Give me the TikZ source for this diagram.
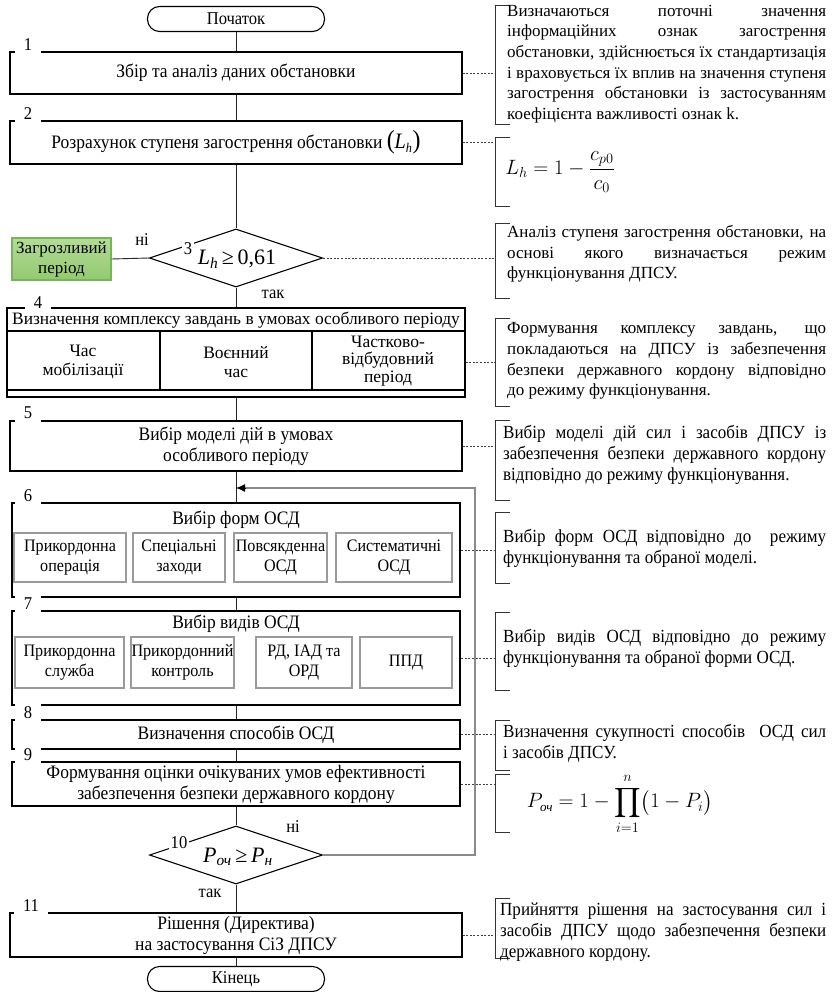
\documentclass[tikz,border=0pt]{standalone}
\usepackage{fontspec}
\usepackage{amsmath}
\setmainfont{Liberation Serif}
\newfontfamily\condf{Liberation Serif}[FakeStretch=0.92]
\usetikzlibrary{shapes.geometric,arrows.meta}
\definecolor{gtop}{HTML}{B3DC98}
\definecolor{gbot}{HTML}{93C96F}
\definecolor{gbord}{HTML}{78B45A}
\definecolor{subgrey}{HTML}{9A9A9A}
\definecolor{fbgrey}{HTML}{8A8A8A}
\tikzset{
  ln/.style={line width=0.9pt, draw=black!85},
  pbox/.style={draw=black, line width=1.2pt, minimum width=452pt, inner sep=0pt, align=center, font=\condf\fontsize{19}{21}\selectfont},
  tbox/.style={draw=black, line width=2.4pt, minimum width=448pt, inner sep=0pt, align=center, font=\condf\fontsize{19}{21}\selectfont},
  term/.style={draw=black, line width=1.1pt, rounded corners=12pt, minimum width=177pt, minimum height=25pt, inner sep=0pt, font=\condf\fontsize{18}{20}\selectfont},
  dia/.style={draw=black, diamond, line width=1.1pt, minimum width=173pt, minimum height=58pt, inner sep=0pt},
  subb/.style={draw=subgrey, line width=1.6pt, inner sep=0pt, align=center, font=\condf\fontsize{17.5}{20}\selectfont},
  numl/.style={fill=white, inner xsep=9pt, inner ysep=3pt, anchor=south, font=\condf\fontsize{18}{18}\selectfont},
  lab/.style={inner sep=1pt, font=\condf\fontsize{18}{18}\selectfont},
  brk/.style={line width=0.9pt, draw=black!80},
  dots/.style={line width=0.9pt, draw=black!75, dash pattern=on 2pt off 1.6pt},
  fb/.style={line width=1.4pt, draw=fbgrey},
  rt/.style={anchor=west, inner sep=0pt, text width=#1, align=justify, font=\fontsize{17}{20.6}\selectfont},
  rtc/.style={anchor=west, inner sep=0pt, text width=#1, align=justify, font=\condf\fontsize{18.5}{21}\selectfont},
  celltxt/.style={inner sep=0pt, align=center, font=\fontsize{17.5}{19}\selectfont},
  greenbox/.style={draw=gbord, line width=1.2pt, top color=gtop, bottom color=gbot, minimum width=99pt, minimum height=42pt, inner sep=0pt, align=center, font=\fontsize{17}{20}\selectfont}
}
\begin{document}
\begin{tikzpicture}[x=1pt,y=-1pt]
\fill[white] (0,0) rectangle (836,992);
\useasboundingbox (0,0) rectangle (836,992);

% ---------- main column ----------
\node[term] (start) at (236,19) {Початок};
\node[pbox, minimum height=42pt] (b1) at (236,73) {Збір та аналіз даних обстановки};
\node[pbox, minimum height=43pt] (b2) at (236,142.5) {Розрахунок ступеня загострення обстановки {\fontsize{26}{26}\selectfont(}{\fontsize{22}{22}\selectfont\itshape L}\textsubscript{\itshape h}{\fontsize{26}{26}\selectfont)}};
\node[dia] (d3) at (236,258) {};
\node[font=\fontsize{22}{22}\selectfont] (d3t) at (237,259) {{\itshape L}\textsubscript{\itshape h}\,≥\,0,61};
\node[greenbox] (g) at (61.5,259) {Загрозливий\\період};

% box 4 (table)
\node[draw=black, line width=1.2pt, minimum width=458pt, minimum height=89pt, inner sep=0pt] (b4) at (236,352.5) {};
\draw[line width=1.1pt] (7,331) -- (465,331);
\draw[line width=1.1pt] (7,390) -- (465,390);
\draw[line width=1.1pt] (160,331) -- (160,390);
\draw[line width=1.1pt] (312,331) -- (312,390);
\node[inner sep=0pt, font=\fontsize{17.4}{20}\selectfont] (b4h) at (236,320) {Визначення комплексу завдань в умовах особливого періоду};
\node[celltxt] (c41) at (83,362) {Час\\мобілізації};
\node[celltxt] (c42) at (236,362) {Воєнний\\час};
\node[celltxt, font=\fontsize{17.5}{17.5}\selectfont] (c43) at (388,361) {Частково-\\відбудовний\\період};

\node[pbox, minimum height=50pt] (b5) at (236,446) {Вибір моделі дій в умовах\\особливого періоду};

% box 6
\node[tbox, minimum height=94pt] (b6) at (236,550) {};
\node[inner sep=0pt, font=\condf\fontsize{19}{21}\selectfont] (b6h) at (236,520) {Вибір форм ОСД};
\node[subb, minimum width=112pt, minimum height=49pt] (s61) at (70,557.5) {Прикордонна\\операція};
\node[subb, minimum width=92pt, minimum height=49pt] (s62) at (179,557.5) {Спеціальні\\заходи};
\node[subb, minimum width=93pt, minimum height=49pt] (s63) at (280.5,557.5) {Повсякденна\\ОСД};
\node[subb, minimum width=116pt, minimum height=49pt] (s64) at (394,557.5) {Систематичні\\ОСД};

% box 7
\node[tbox, minimum height=94pt] (b7) at (236,658) {};
\node[inner sep=0pt, font=\condf\fontsize{19}{21}\selectfont] (b7h) at (236,624) {Вибір видів ОСД};
\node[subb, minimum width=109pt, minimum height=51pt] (s71) at (69.5,662.5) {Прикордонна\\служба};
\node[subb, minimum width=103pt, minimum height=51pt] (s72) at (182.5,662.5) {Прикордонний\\контроль};
\node[subb, minimum width=96pt, minimum height=51pt] (s73) at (304,662.5) {РД, ІАД та\\ОРД};
\node[subb, minimum width=92pt, minimum height=51pt] (s74) at (406,662.5) {ППД};

\node[tbox, minimum height=29pt] (b8) at (236,734.5) {Визначення способів ОСД};
\node[tbox, minimum height=44pt] (b9) at (236,784) {Формування оцінки очікуваних умов ефективності\\забезпечення безпеки державного кордону};
\node[dia] (d10) at (236,855) {};
\node[font=\fontsize{22}{22}\selectfont] (d10t) at (238,857) {{\itshape P}\textsubscript{\itshape оч}\,≥\,{\itshape P}\textsubscript{\itshape н}};
\node[pbox, minimum height=44pt] (b11) at (236,935) {Рішення (Директива)\\на застосування СіЗ ДПСУ};
\node[term] (end) at (236,979) {Кінець};

% numbers
\node[numl] (n1) at (28,54) {1};
\node[numl] (n2) at (28,123) {2};
\node[lab, fill=white, inner sep=2pt] (n3) at (188,249) {3};
\node[numl, inner ysep=2pt] (n4) at (38,310.5) {4};
\node[numl] (n5) at (28,422) {5};
\node[numl] (n6) at (28,505) {6};
\node[numl] (n7) at (28,613) {7};
\node[numl] (n8) at (28,722) {8};
\node[numl] (n9) at (28,764) {9};
\node[lab, fill=white, inner sep=2pt] (n10) at (179,843) {10};
\node[numl] (n11) at (31,915) {11};

% yes / no
\node[lab] (no1) at (142,240) {ні};
\node[lab] (yes1) at (273,294) {так};
\node[lab] (no2) at (293,827) {ні};
\node[lab] (yes2) at (210,893) {так};

% flow connectors
\draw[ln] (start) -- (b1);
\draw[ln] (b1) -- (b2);
\draw[ln] (b2) -- (d3);
\draw[ln] (d3) -- (b4);
\draw[ln] (d3.west) -- (g.east);
\draw[ln] (b4) -- (b5);
\draw[ln] (b5) -- (b6);
\draw[ln] (b6) -- (b7);
\draw[ln] (b7) -- (b8);
\draw[ln] (b8) -- (b9);
\draw[ln] (b9) -- (d10);
\draw[ln] (d10) -- (b11);
\draw[ln] (b11) -- (end);
\coordinate (fbc) at (475,488);
\coordinate (jn) at (236,488);
\draw[fb] (d10.east) -| (fbc) -- (244,488);
\draw[line width=0.9pt, black, -{Latex[length=9pt,width=8pt]}] (246,488) -- (jn);

% ---------- right column ----------
\draw[brk] (510,5) -| (495,124) -- (510,124);
\node[rt=319pt] (t1) at (507,64) {Визначаються поточні значення\linebreak інформаційних ознак загострення\linebreak обстановки, здійснюється їх стандартизація\linebreak і враховується їх вплив на значення ступеня\linebreak загострення обстановки із застосуванням\linebreak коефіцієнта важливості ознак k.};

\draw[brk] (510,137) -| (495,206) -- (510,206);
\node[font=\fontsize{20}{24}\selectfont] (f2) at (560,172) {$\displaystyle L_h = 1-\frac{c_{p0}}{c_0}$};

\draw[brk] (510,223) -| (495,298) -- (510,298);
\node[rt=319pt] (t3) at (507,254) {Аналіз ступеня загострення обстановки, на\linebreak основі якого визначається режим\linebreak функціонування ДПСУ.};

\draw[brk] (510,318) -| (495,406) -- (510,406);
\node[rt=319pt] (t4) at (507,361) {Формування комплексу завдань, що\linebreak покладаються на ДПСУ із забезпечення\linebreak безпеки державного кордону відповідно\linebreak до режиму функціонування.};

\draw[brk] (510,420) -| (495,500) -- (510,500);
\node[rtc=323pt] (t5) at (503,455) {Вибір моделі дій сил і засобів ДПСУ із\linebreak забезпечення безпеки державного кордону\linebreak відповідно до режиму функціонування.};

\draw[brk] (510,512) -| (495,583) -- (510,583);
\node[rtc=323pt] (t6) at (503,548) {Вибір форм ОСД відповідно до\ \ режиму\linebreak функціонування та обраної моделі.};

\draw[brk] (510,612) -| (495,690) -- (510,690);
\node[rtc=323pt] (t7) at (503,648) {Вибір видів ОСД відповідно до режиму\linebreak функціонування та обраної форми ОСД.};

\draw[brk] (510,720) -| (495,770) -- (510,770);
\node[rtc=323pt] (t8) at (503,743) {Визначення сукупності способів\ \ ОСД сил\linebreak і засобів ДПСУ.};

\draw[brk] (510,774) -| (495,832) -- (510,832);
\node[font=\fontsize{21}{24}\selectfont, inner sep=0pt] (f9) at (620,804) {$\displaystyle P_{\text{\itshape\fontsize{13}{13}\selectfont оч}} = 1-\prod_{i=1}^{n}\bigl(1-P_i\bigr)$};

\draw[brk] (510,898) -| (495,958) -- (510,958);
\node[rtc=326pt] (t11) at (500,932) {Прийняття рішення на застосування сил і\linebreak засобів ДПСУ щодо забезпечення безпеки\linebreak державного кордону.};

% dotted links
\coordinate (k1) at (495,73);
\coordinate (k2) at (495,142.5);
\coordinate (k3) at (495,258);
\coordinate (k4) at (495,362);
\coordinate (k5) at (495,446);
\coordinate (k6) at (495,550);
\coordinate (k7) at (495,658);
\coordinate (k8) at (495,734.5);
\coordinate (k9) at (495,784);
\coordinate (k11) at (495,935);
\draw[dots] (b1.east) -- (k1);
\draw[dots] (b2.east) -- (k2);
\draw[dots] (d3.east) -- (k3);
\draw[dots] (b4.east |- k4) -- (k4);
\draw[dots] (b5.east) -- (k5);
\draw[dots] (b6.east) -- (k6);
\draw[dots] (b7.east) -- (k7);
\draw[dots] (b8.east) -- (k8);
\draw[dots] (b9.east) -- (k9);
\draw[dots] (b11.east) -- (k11);
\end{tikzpicture}
\end{document}
